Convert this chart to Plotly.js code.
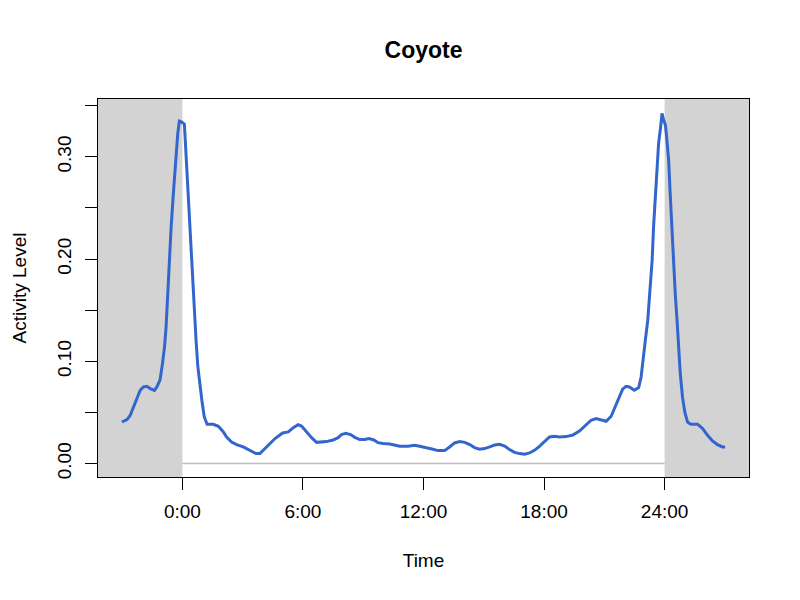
<!DOCTYPE html>
<html>
<head>
<meta charset="utf-8">
<script src="https://cdn.plot.ly/plotly-3.0.1.min.js"></script>
<style>html,body{margin:0;padding:0;background:#fff;}#chart{width:800px;height:600px;}</style>
</head>
<body>
<div id="chart"></div>
<script>
// Time of day in hours (extended from -3 to 27)
const hours = [-3.01,-2.76,-2.6,-2.43,-2.27,-2.1,-1.94,-1.77,-1.6,-1.39,-1.27,-1.11,-0.99,-0.89,-0.81,-0.74,-0.65,-0.56,-0.45,-0.33,-0.23,-0.15,-0.03,0.10,0.17,0.25,0.33,0.43,0.52,0.60,0.68,0.77,0.88,0.99,1.09,1.23,1.54,1.79,2.04,2.2,2.45,2.70,3.03,3.36,3.66,3.86,4.19,4.61,4.99,5.27,5.52,5.76,5.93,6.18,6.43,6.68,6.93,7.17,7.50,7.75,7.92,8.13,8.37,8.58,8.83,9.08,9.29,9.53,9.74,9.99,10.32,10.57,10.82,11.23,11.56,11.81,12.14,12.47,12.72,13.05,13.30,13.55,13.80,14.05,14.30,14.54,14.79,15.04,15.29,15.54,15.79,16.04,16.28,16.53,16.78,17.03,17.28,17.52,17.77,18.02,18.27,18.52,18.77,19.10,19.43,19.76,20.09,20.34,20.59,20.84,21.09,21.34,21.50,21.71,21.91,22.08,22.25,22.49,22.71,22.83,22.94,23.04,23.16,23.27,23.38,23.45,23.54,23.62,23.70,23.80,23.87,23.95,24.04,24.10,24.20,24.27,24.35,24.43,24.53,24.62,24.70,24.78,24.89,25.01,25.14,25.31,25.64,25.89,26.14,26.38,26.63,26.88,27.01];
// Activity level (density)
const activity = [0.0407,0.043,0.047,0.0554,0.065,0.0717,0.075,0.0756,0.0734,0.0717,0.075,0.082,0.098,0.114,0.134,0.163,0.199,0.2315,0.264,0.297,0.323,0.335,0.334,0.332,0.3066,0.274,0.241,0.2087,0.176,0.1468,0.1206,0.0945,0.075,0.0587,0.0456,0.0385,0.0385,0.0365,0.031,0.026,0.0211,0.0186,0.0163,0.013,0.0098,0.0098,0.0163,0.0245,0.030,0.031,0.0352,0.038,0.0368,0.031,0.0254,0.0208,0.0208,0.0215,0.0231,0.0254,0.0284,0.0296,0.0284,0.0257,0.0235,0.0235,0.0245,0.0231,0.0205,0.0196,0.0192,0.0182,0.0169,0.0169,0.0179,0.0169,0.0157,0.014,0.0127,0.0127,0.0163,0.0202,0.0215,0.0208,0.0186,0.0157,0.014,0.0147,0.0163,0.0182,0.0189,0.0172,0.0137,0.011,0.0098,0.0091,0.0104,0.013,0.0169,0.0218,0.026,0.0267,0.026,0.0264,0.028,0.0319,0.0375,0.0424,0.044,0.043,0.0414,0.0463,0.0538,0.0636,0.0729,0.0756,0.075,0.0717,0.0744,0.0847,0.101,0.1206,0.140,0.166,0.199,0.2315,0.264,0.290,0.313,0.329,0.3425,0.336,0.331,0.3196,0.297,0.267,0.2315,0.199,0.166,0.140,0.114,0.088,0.065,0.050,0.0407,0.0385,0.0385,0.0342,0.0277,0.0221,0.0186,0.0163,0.0163];

const xTickVals = [0, 6, 12, 18, 24];
const xTickText = ["0:00", "6:00", "12:00", "18:00", "24:00"];
const yTickVals = [0, 0.05, 0.10, 0.15, 0.20, 0.25, 0.30, 0.35];
const yTickText = ["0.00", "", "0.10", "", "0.20", "", "0.30", ""];
const nightBands = [[-4.2, 0], [24, 28.2]];
const dayLine = [0, 24];

const font = "Liberation Sans, Arial, sans-serif";

const shapes = nightBands.map(b => ({
  type: "rect", xref: "x", yref: "paper", x0: b[0], x1: b[1], y0: 0, y1: 1,
  fillcolor: "#D3D3D3", line: {width: 0}, layer: "below"
}));
shapes.push({type: "line", xref: "x", yref: "y", x0: dayLine[0], x1: dayLine[1], y0: 0, y1: 0,
  line: {color: "#BEBEBE", width: 1.5}, layer: "below"});

const trace = {
  x: hours, y: activity, type: "scatter", mode: "lines",
  line: {color: "#3366CC", width: 3}, hoverinfo: "x+y"
};

const layout = {
  width: 800, height: 600,
  margin: {l: 98, r: 51, t: 99, b: 123},
  paper_bgcolor: "#fff", plot_bgcolor: "rgba(0,0,0,0)",
  font: {family: font, color: "#000", size: 19},
  showlegend: false,
  title: {text: "<b>Coyote</b>", font: {family: font, size: 23, color: "#000"},
          x: 0.5, xref: "paper", y: 1 - 50/600, yref: "container", yanchor: "middle"},
  xaxis: {
    range: [-4.2, 28.2], tickvals: xTickVals, ticktext: xTickText,
    showgrid: false, zeroline: false, showline: true, mirror: true, linecolor: "#000", linewidth: 1,
    ticks: "outside", ticklen: 12, tickwidth: 1, tickcolor: "#000", ticklabelstandoff: 5,
    tickfont: {family: font, size: 19, color: "#000"},
    title: {text: "Time", font: {family: font, size: 19, color: "#000"}, standoff: 32}
  },
  yaxis: {
    range: [-0.0131, 0.3566], tickvals: yTickVals, ticktext: yTickText, tickangle: -90,
    showgrid: false, zeroline: false, showline: true, mirror: true, linecolor: "#000", linewidth: 1,
    ticks: "outside", ticklen: 12, tickwidth: 1, tickcolor: "#000", ticklabelstandoff: 6,
    tickfont: {family: font, size: 19, color: "#000"},
    title: {text: "Activity Level", font: {family: font, size: 19, color: "#000"}, standoff: 22}
  },
  shapes: shapes
};

Plotly.newPlot("chart", [trace], layout, {displayModeBar: false, staticPlot: true});
</script>
</body>
</html>
